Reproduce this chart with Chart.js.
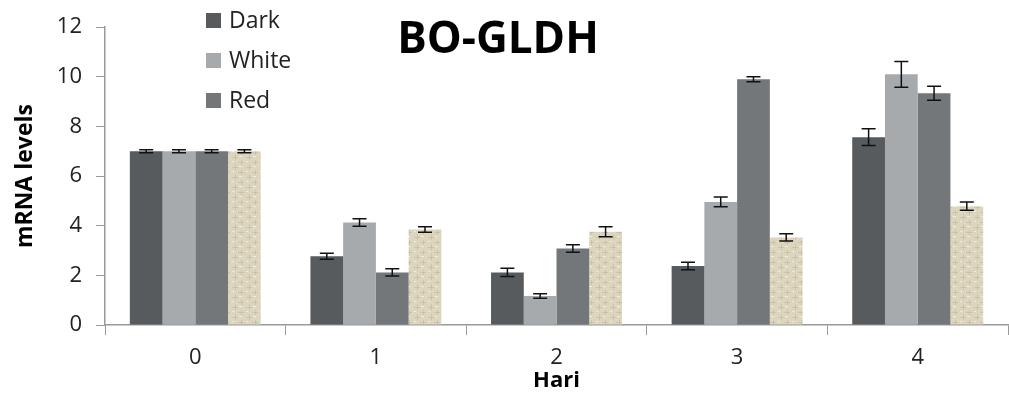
<!DOCTYPE html>
<html>
<head>
<meta charset="utf-8">
<script src="https://cdn.jsdelivr.net/npm/chart.js@4"></script>
<style>
  html, body { margin: 0; padding: 0; background: #fff; }
  #wrap { width: 1009px; height: 394px; }
</style>
</head>
<body>
<div id="wrap"><canvas id="myChart"></canvas></div>
<script>
const hari = ["0", "1", "2", "3", "4"];
const dark = [7.0, 2.77, 2.12, 2.38, 7.57];
const white = [7.0, 4.13, 1.17, 4.96, 10.1];
const red = [7.0, 2.12, 3.08, 9.9, 9.34];
const fourth = [7.0, 3.85, 3.76, 3.53, 4.79];
const darkErr = [0.06, 0.12, 0.17, 0.15, 0.34];
const whiteErr = [0.06, 0.15, 0.09, 0.2, 0.52];
const redErr = [0.06, 0.15, 0.15, 0.1, 0.28];
const fourthErr = [0.06, 0.11, 0.2, 0.15, 0.17];
const yTicks = [0, 2, 4, 6, 8, 10, 12];

// beige burlap-ish fill for the unlabeled series
function makeTexture() {
    const c = document.createElement('canvas');
    c.width = 14; c.height = 10;
    const g = c.getContext('2d');
    g.fillStyle = '#ddd6bf';
    g.fillRect(0, 0, 14, 10);
    g.fillStyle = 'rgba(175,165,135,0.35)';
    g.fillRect(0, 2, 6, 1);
    g.fillRect(8, 7, 6, 1);
    g.fillRect(3, 0, 1, 5);
    g.fillRect(11, 4, 1, 6);
    g.fillStyle = 'rgba(255,255,245,0.55)';
    g.fillRect(1, 6, 3, 1);
    g.fillRect(8, 1, 2, 1);
    return g.createPattern(c, 'repeat');
}

const errBars = {
    id: 'errBars',
    afterDatasetsDraw(chart) {
        const ctx = chart.ctx;
        const y = chart.scales.y;
        ctx.save();
        ctx.strokeStyle = '#111';
        ctx.lineWidth = 1.5;
        chart.data.datasets.forEach((ds, i) => {
            const meta = chart.getDatasetMeta(i);
            meta.data.forEach((bar, j) => {
                const v = ds.data[j], e = ds.err[j];
                const top = y.getPixelForValue(v + e);
                const bot = y.getPixelForValue(v - e);
                const hw = 7;
                ctx.beginPath();
                ctx.moveTo(bar.x, top); ctx.lineTo(bar.x, bot);
                ctx.moveTo(bar.x - hw, top); ctx.lineTo(bar.x + hw, top);
                ctx.moveTo(bar.x - hw, bot); ctx.lineTo(bar.x + hw, bot);
                ctx.stroke();
            });
        });
        ctx.restore();
    }
};

const overlay = {
    id: 'overlay',
    afterDraw(chart) {
        const ctx = chart.ctx;
        ctx.save();
        // title
        ctx.fillStyle = '#000';
        ctx.font = 'bold 44px "Open Sans", sans-serif';
        ctx.textAlign = 'center';
        ctx.textBaseline = 'middle';
        ctx.fillText('BO-GLDH', 498, 40);
        // legend (first three series)
        ctx.font = '23px "Open Sans", sans-serif';
        ctx.textAlign = 'left';
        chart.data.datasets.slice(0, 3).forEach((ds, i) => {
            const cy = 20 + i * 40;
            ctx.fillStyle = ds.backgroundColor;
            ctx.fillRect(206, cy - 7, 15, 15);
            ctx.fillStyle = '#222';
            ctx.fillText(ds.label, 229, cy + 1);
        });
        ctx.restore();
    }
};

const ctx = document.getElementById('myChart');
new Chart(ctx, {
    type: 'bar',
    data: {
        labels: hari,
        datasets: [
            { label: 'Dark', data: dark, err: darkErr, backgroundColor: '#575b5d' },
            { label: 'White', data: white, err: whiteErr, backgroundColor: '#a7aaac' },
            { label: 'Red', data: red, err: redErr, backgroundColor: '#73777a' },
            { label: '', data: fourth, err: fourthErr, backgroundColor: makeTexture() }
        ]
    },
    options: {
        responsive: true,
        maintainAspectRatio: false,
        animation: false,
        layout: { padding: { top: 21, right: 1, left: 0, bottom: 0 } },
        datasets: {
            bar: { categoryPercentage: 0.725, barPercentage: 1.0, borderWidth: 0 }
        },
        scales: {
            x: {
                grid: {
                    offset: true,
                    drawOnChartArea: false,
                    color: '#999',
                    tickLength: 10
                },
                border: { color: '#999', width: 1.5 },
                ticks: { color: '#222', font: { size: 22, family: '"Open Sans", sans-serif' }, padding: 10 },
                title: {
                    display: true,
                    text: 'Hari',
                    color: '#000',
                    font: { size: 22, weight: 'bold', family: '"Open Sans", sans-serif' },
                    padding: { top: -14, bottom: 0 }
                },
                afterFit(scale) { scale.height = 69; }
            },
            y: {
                min: 0,
                max: 12,
                afterBuildTicks(scale) { scale.ticks = yTicks.map(v => ({ value: v })); },
                grid: {
                    drawOnChartArea: false,
                    color: '#999',
                    tickLength: 9
                },
                border: { color: '#999', width: 1.5 },
                ticks: { color: '#222', font: { size: 22, family: '"Open Sans", sans-serif' }, padding: 14 },
                title: {
                    display: true,
                    text: 'mRNA levels',
                    color: '#000',
                    font: { size: 23, weight: 'bold', family: '"Open Sans", sans-serif' },
                    padding: { top: 12, bottom: 6 }
                },
                afterFit(scale) { scale.width = 105; }
            }
        },
        plugins: {
            legend: { display: false },
            tooltip: { enabled: false }
        }
    },
    plugins: [errBars, overlay]
});
</script>
</body>
</html>
